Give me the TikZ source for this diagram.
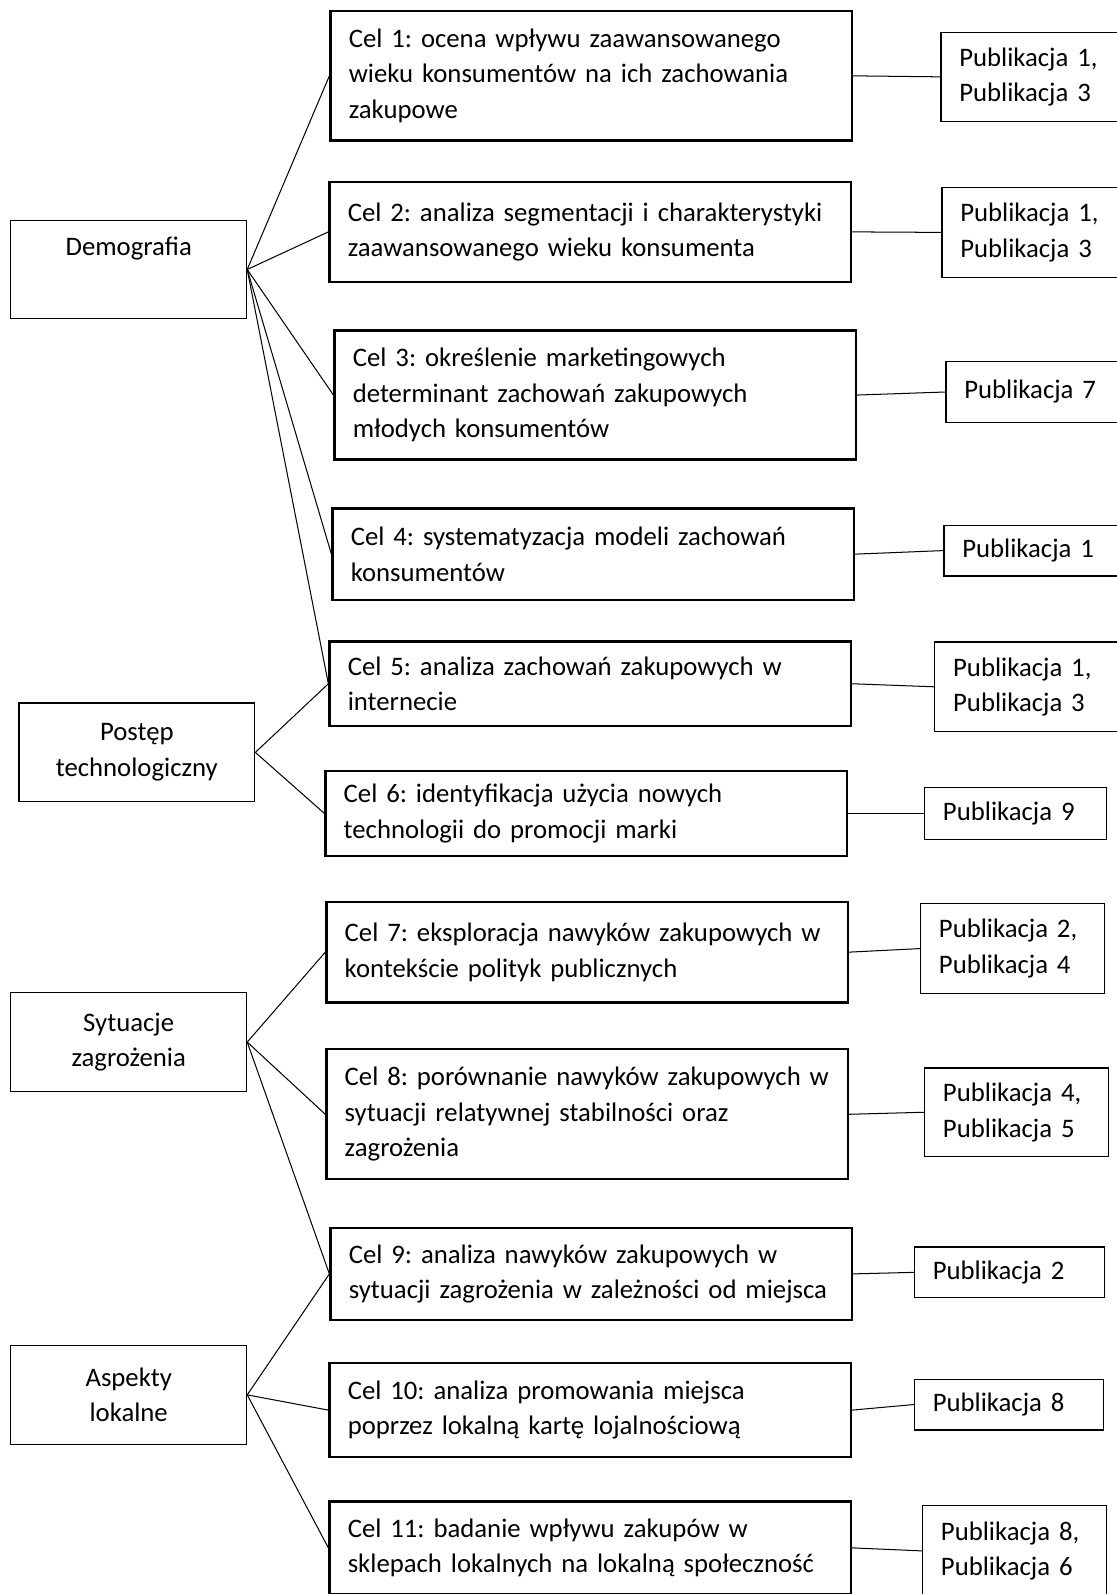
\documentclass[tikz,border=0pt]{standalone}
\usepackage{fontspec}
\setmainfont{Carlito}[WordSpace=0.85]
\frenchspacing

\tikzset{every picture/.style={line width=1pt}}
\tikzset{
  txt/.style={font=\fontsize{26.3}{35}\selectfont},
  goalbox/.style={txt, draw, line width=2.2pt, anchor=north west, inner xsep=18pt, inner ysep=0pt, text width=477pt, align=left},
  areabox/.style={txt, draw, line width=1.2pt, anchor=north west, inner sep=0pt, minimum width=232pt, minimum height=97pt, align=center},
  pubbox/.style={txt, draw, line width=1.2pt, anchor=north west, inner xsep=18pt, inner ysep=0pt, align=left},
  link/.style={line width=1pt}
}

\begin{document}
\begin{tikzpicture}[x=1pt,y=1pt,yscale=-1,xscale=1]
\useasboundingbox (0,0) rectangle (1098,1568);

% left column: areas
\node[areabox] (demo) at (10,216) {Demografia\\\strut};
\node[areabox] (tech) at (18,691) {Postęp\\technologiczny};
\node[areabox] (threat) at (10,976) {Sytuacje\\zagrożenia};
\node[areabox] (local) at (10,1323) {Aspekty\\lokalne};

% middle column: goals
\node[goalbox, minimum height=127pt] (c1) at (324,10) {Cel 1: ocena wpływu zaawansowanego\\wieku konsumentów na ich zachowania\\zakupowe};
\node[goalbox, minimum height=98pt] (c2) at (323,178) {Cel 2: analiza segmentacji i charakterystyki\\zaawansowanego wieku konsumenta};
\node[goalbox, minimum height=127pt] (c3) at (328,324) {Cel 3: określenie marketingowych\\determinant zachowań zakupowych\\młodych konsumentów};
\node[goalbox, minimum height=90pt] (c4) at (326,499) {Cel 4: systematyzacja modeli zachowań\\konsumentów};
\node[goalbox, minimum height=83pt] (c5) at (323,630) {Cel 5: analiza zachowań zakupowych w\\internecie};
\node[goalbox, minimum height=84pt] (c6) at (319,757) {Cel 6: identyfikacja użycia nowych\\technologii do promocji marki};
\node[goalbox, minimum height=99pt] (c7) at (320,886) {Cel 7: eksploracja nawyków zakupowych w\\kontekście polityk publicznych};
\node[goalbox, minimum height=128pt] (c8) at (320,1031) {Cel 8: porównanie nawyków zakupowych w\\sytuacji relatywnej stabilności oraz\\zagrożenia};
\node[goalbox, minimum height=90pt] (c9) at (324,1207) {Cel 9: analiza nawyków zakupowych w\\sytuacji zagrożenia w zależności od miejsca};
\node[goalbox, minimum height=92pt] (c10) at (323,1340) {Cel 10: analiza promowania miejsca\\poprzez lokalną kartę lojalnościową};
\node[goalbox, minimum height=91pt] (c11) at (323,1476) {Cel 11: badanie wpływu zakupów w\\sklepach lokalnych na lokalną społeczność};

% right column: publications
\node[pubbox, text width=200pt, minimum height=88pt] (p1) at (925,31) {Publikacja 1,\\Publikacja 3};
\node[pubbox, text width=200pt, minimum height=88pt] (p2) at (926,184) {Publikacja 1,\\Publikacja 3};
\node[pubbox, text width=200pt, minimum height=60pt] (p3) at (930,355) {Publikacja 7};
\node[pubbox, text width=200pt, minimum height=50pt] (p4) at (928,516) {Publikacja 1};
\node[pubbox, text width=200pt, minimum height=88pt] (p5) at (919,631) {Publikacja 1,\\Publikacja 3};
\node[pubbox, text width=143pt, minimum height=51pt] (p6) at (909,774) {Publikacja 9};
\node[pubbox, text width=145pt, minimum height=89pt] (p7) at (905,888) {Publikacja 2,\\Publikacja 4};
\node[pubbox, text width=145pt, minimum height=87pt] (p8) at (909,1050) {Publikacja 4,\\Publikacja 5};
\node[pubbox, text width=151pt, minimum height=50pt] (p9) at (899,1226) {Publikacja 2};
\node[pubbox, text width=150pt, minimum height=50pt] (p10) at (899,1356) {Publikacja 8};
\node[pubbox, text width=145pt, minimum height=90pt] (p11) at (907,1480) {Publikacja 8,\\Publikacja 6};

% areas to goals
\draw[link] (demo.east) -- (c1.west);
\draw[link] (demo.east) -- (c2.west);
\draw[link] (demo.east) -- (c3.west);
\draw[link] (demo.east) -- (c4.west);
\draw[link] (demo.east) -- (c5.west);
\draw[link] (tech.east) -- (c5.west);
\draw[link] (tech.east) -- (c6.west);
\draw[link] (threat.east) -- (c7.west);
\draw[link] (threat.east) -- (c8.west);
\draw[link] (threat.east) -- (c9.west);
\draw[link] (local.east) -- (c9.west);
\draw[link] (local.east) -- (c10.west);
\draw[link] (local.east) -- (c11.west);

% goals to publications
\draw[link] (c1.east) -- (p1.west);
\draw[link] (c2.east) -- (p2.west);
\draw[link] (c3.east) -- (p3.west);
\draw[link] (c4.east) -- (p4.west);
\draw[link] (c5.east) -- (p5.west);
\draw[link] (c6.east) -- (p6.west);
\draw[link] (c7.east) -- (p7.west);
\draw[link] (c8.east) -- (p8.west);
\draw[link] (c9.east) -- (p9.west);
\draw[link] (c10.east) -- (p10.west);
\draw[link] (c11.east) -- (p11.west);

\end{tikzpicture}
\end{document}
